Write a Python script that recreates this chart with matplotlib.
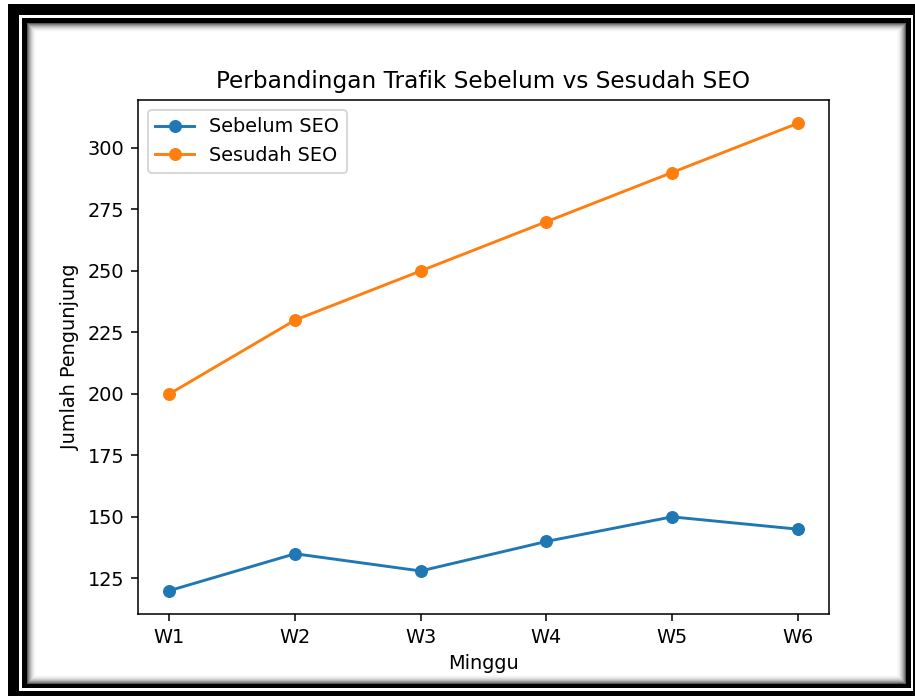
import matplotlib
matplotlib.use("Agg")
import matplotlib.pyplot as plt
from matplotlib.patches import Rectangle

weeks = ["W1", "W2", "W3", "W4", "W5", "W6"]
sebelum = [120, 135, 128, 140, 150, 145]
sesudah = [200, 230, 250, 270, 290, 310]

W, H = 915, 696
s = 1.39
plt.rcParams.update({
    "font.size": 10 * s,
    "axes.titlesize": 12 * s,
    "axes.linewidth": 0.8 * s,
    "lines.linewidth": 1.5 * s,
    "lines.markersize": 6 * s,
    "xtick.major.size": 3.5 * s,
    "ytick.major.size": 3.5 * s,
    "xtick.major.width": 0.8 * s,
    "ytick.major.width": 0.8 * s,
    "xtick.major.pad": 3.5 * s,
    "ytick.major.pad": 3.5 * s,
    "axes.labelpad": 4 * s,
    "axes.titlepad": 6 * s,
    "patch.linewidth": 1.0 * s,
})

fig = plt.figure(figsize=(W / 100, H / 100), dpi=100)

def prect(x0, y0, x1, y1, fc, ec="none", lw=0, z=-10):
    # pixel coords from top-left
    r = Rectangle((x0 / W, 1 - y1 / H), (x1 - x0) / W, (y1 - y0) / H,
                  transform=fig.transFigure, facecolor=fc, edgecolor=ec,
                  linewidth=lw, zorder=z)
    fig.patches.append(r)

# decorative frame
prect(8, 4, 918, 700, "black", z=-20)
prect(19, 15, 912.5, 690.5, "white", z=-19)
prect(22, 18, 910.5, 688, "black", z=-18)
shades = [0.35, 0.5, 0.62, 0.72, 0.8, 0.87, 0.92, 0.96, 0.985]
for i, g in enumerate(shades):
    prect(27 + i, 23 + i, 906 - i, 684 - i, (g, g, g), z=-17 + i * 0.01)
prect(27 + len(shades), 23 + len(shades), 906 - len(shades), 684 - len(shades), "white", z=-16)

ax = fig.add_axes([138 / W, 1 - 614 / H, (829 - 138) / W, (614 - 100) / H])
ax.set_facecolor("white")
ax.plot(weeks, sebelum, marker="o", label="Sebelum SEO", color="#1f77b4")
ax.plot(weeks, sesudah, marker="o", label="Sesudah SEO", color="#ff7f0e")
ax.set_yticks([125, 150, 175, 200, 225, 250, 275, 300])
ax.set_title("Perbandingan Trafik Sebelum vs Sesudah SEO")
ax.set_xlabel("Minggu")
ax.set_ylabel("Jumlah Pengunjung")
ax.legend(loc="upper left")

fig.savefig("out.png", dpi=100, facecolor="white")
